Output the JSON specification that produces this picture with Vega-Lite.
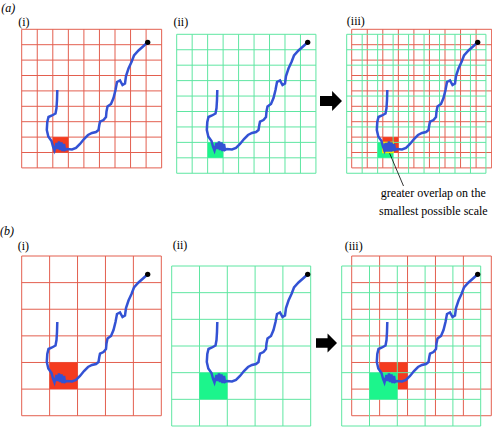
{
"$schema": "https://vega.github.io/schema/vega-lite/v6.json",
"padding": 0,
"config": {"view": {"stroke": null}, "font": "Liberation Serif"},
"datasets": {
"traj": [
{"o":1,"x":57.3,"y":90},{"o":2,"x":57.0,"y":100},{"o":3,"x":56.5,"y":108},{"o":4,"x":55.5,"y":113.5},{"o":5,"x":52,"y":115.5},{"o":6,"x":48.5,"y":117},{"o":7,"x":47.3,"y":122},{"o":8,"x":46.8,"y":130},{"o":9,"x":48.3,"y":136.5},{"o":10,"x":51.5,"y":141},{"o":11,"x":53,"y":146.5},{"o":12,"x":54.5,"y":150.5},{"o":13,"x":56.5,"y":143},{"o":14,"x":57.5,"y":149},{"o":15,"x":59,"y":141.5},{"o":16,"x":60,"y":150},{"o":17,"x":61.5,"y":142.5},{"o":18,"x":62.5,"y":151},{"o":19,"x":64,"y":144},{"o":20,"x":65,"y":150},{"o":21,"x":67,"y":149},{"o":22,"x":72,"y":149.5},{"o":23,"x":76,"y":148},{"o":24,"x":80,"y":144},{"o":25,"x":84,"y":139},{"o":26,"x":88,"y":135},{"o":27,"x":92,"y":133},{"o":28,"x":96,"y":132},{"o":29,"x":98.5,"y":130},{"o":30,"x":99.3,"y":125},{"o":31,"x":100,"y":121.7},{"o":32,"x":103.5,"y":120},{"o":33,"x":106,"y":117},{"o":34,"x":106.5,"y":111.5},{"o":35,"x":107.5,"y":106.5},{"o":36,"x":111,"y":104},{"o":37,"x":113.5,"y":98},{"o":38,"x":115.5,"y":90},{"o":39,"x":117,"y":82},{"o":40,"x":120,"y":80.5},{"o":41,"x":122.5,"y":85},{"o":42,"x":125,"y":83.5},{"o":43,"x":126,"y":76},{"o":44,"x":128.5,"y":68.5},{"o":45,"x":131.5,"y":62},{"o":46,"x":134,"y":55.5},{"o":47,"x":138.5,"y":50.5},{"o":48,"x":143,"y":46.5},{"o":49,"x":147.7,"y":42.3}
],
"dot": [{"x":147.7,"y":42.3}],
"redA": [
{"x":21.7,"x2":21.7,"y":29.3,"y2":167.9},{"x":37.25,"x2":37.25,"y":29.3,"y2":167.9},{"x":52.8,"x2":52.8,"y":29.3,"y2":167.9},{"x":68.35,"x2":68.35,"y":29.3,"y2":167.9},{"x":83.9,"x2":83.9,"y":29.3,"y2":167.9},{"x":99.45,"x2":99.45,"y":29.3,"y2":167.9},{"x":115,"x2":115,"y":29.3,"y2":167.9},{"x":130.55,"x2":130.55,"y":29.3,"y2":167.9},{"x":146.1,"x2":146.1,"y":29.3,"y2":167.9},{"x":161.65,"x2":161.65,"y":29.3,"y2":167.9},
{"x":21.7,"x2":161.65,"y":29.3,"y2":29.3},{"x":21.7,"x2":161.65,"y":44.7,"y2":44.7},{"x":21.7,"x2":161.65,"y":60.1,"y2":60.1},{"x":21.7,"x2":161.65,"y":75.5,"y2":75.5},{"x":21.7,"x2":161.65,"y":90.9,"y2":90.9},{"x":21.7,"x2":161.65,"y":106.3,"y2":106.3},{"x":21.7,"x2":161.65,"y":121.7,"y2":121.7},{"x":21.7,"x2":161.65,"y":137.1,"y2":137.1},{"x":21.7,"x2":161.65,"y":152.5,"y2":152.5},{"x":21.7,"x2":161.65,"y":167.9,"y2":167.9}
],
"greenA": [
{"x":16.7,"x2":16.7,"y":34.3,"y2":173.26},{"x":32.17,"x2":32.17,"y":34.3,"y2":173.26},{"x":47.64,"x2":47.64,"y":34.3,"y2":173.26},{"x":63.11,"x2":63.11,"y":34.3,"y2":173.26},{"x":78.58,"x2":78.58,"y":34.3,"y2":173.26},{"x":94.05,"x2":94.05,"y":34.3,"y2":173.26},{"x":109.52,"x2":109.52,"y":34.3,"y2":173.26},{"x":124.99,"x2":124.99,"y":34.3,"y2":173.26},{"x":140.46,"x2":140.46,"y":34.3,"y2":173.26},{"x":155.93,"x2":155.93,"y":34.3,"y2":173.26},
{"x":16.7,"x2":155.93,"y":34.3,"y2":34.3},{"x":16.7,"x2":155.93,"y":49.74,"y2":49.74},{"x":16.7,"x2":155.93,"y":65.18,"y2":65.18},{"x":16.7,"x2":155.93,"y":80.62,"y2":80.62},{"x":16.7,"x2":155.93,"y":96.06,"y2":96.06},{"x":16.7,"x2":155.93,"y":111.5,"y2":111.5},{"x":16.7,"x2":155.93,"y":126.94,"y2":126.94},{"x":16.7,"x2":155.93,"y":142.38,"y2":142.38},{"x":16.7,"x2":155.93,"y":157.82,"y2":157.82},{"x":16.7,"x2":155.93,"y":173.26,"y2":173.26}
],
"redB": [
{"x":21.7,"x2":21.7,"y":24,"y2":183.72},{"x":49.62,"x2":49.62,"y":24,"y2":183.72},{"x":77.54,"x2":77.54,"y":24,"y2":183.72},{"x":105.46,"x2":105.46,"y":24,"y2":183.72},{"x":133.38,"x2":133.38,"y":24,"y2":183.72},{"x":161.3,"x2":161.3,"y":24,"y2":183.72},
{"x":21.7,"x2":161.3,"y":24,"y2":24},{"x":21.7,"x2":161.3,"y":50.62,"y2":50.62},{"x":21.7,"x2":161.3,"y":77.24,"y2":77.24},{"x":21.7,"x2":161.3,"y":103.86,"y2":103.86},{"x":21.7,"x2":161.3,"y":130.48,"y2":130.48},{"x":21.7,"x2":161.3,"y":157.1,"y2":157.1},{"x":21.7,"x2":161.3,"y":183.72,"y2":183.72}
],
"greenB": [
{"x":11.7,"x2":11.7,"y":34,"y2":194},{"x":39.5,"x2":39.5,"y":34,"y2":194},{"x":67.3,"x2":67.3,"y":34,"y2":194},{"x":95.1,"x2":95.1,"y":34,"y2":194},{"x":122.9,"x2":122.9,"y":34,"y2":194},{"x":150.7,"x2":150.7,"y":34,"y2":194},
{"x":11.7,"x2":150.7,"y":34,"y2":34},{"x":11.7,"x2":150.7,"y":60.67,"y2":60.67},{"x":11.7,"x2":150.7,"y":87.33,"y2":87.33},{"x":11.7,"x2":150.7,"y":114,"y2":114},{"x":11.7,"x2":150.7,"y":140.67,"y2":140.67},{"x":11.7,"x2":150.7,"y":167.33,"y2":167.33},{"x":11.7,"x2":150.7,"y":194,"y2":194}
]
},
"columns": 3,
"align": "each",
"bounds": "flush",
"spacing": 0,
"concat": [
{"width":160,"height":232,
"encoding":{"x":{"field":"x","type":"quantitative","axis":null,"scale":{"domain":[0,160],"nice":false,"zero":false}},"y":{"field":"y","type":"quantitative","axis":null,"scale":{"domain":[0,232],"reverse":true,"nice":false,"zero":false}}},
"layer":[
{"data":{"name":"redA"},"mark":{"type":"rule","color":"#e35f4f","strokeWidth":1},"encoding":{"x2":{"field":"x2"},"y2":{"field":"y2"}}},
{"data":{"values":[{"x":52.8,"x2":68.35,"y":137.1,"y2":152.5}]},"mark":{"type":"rect","color":"#f43b1f"},"encoding":{"x2":{"field":"x2"},"y2":{"field":"y2"}}},
{"data":{"name":"traj"},"mark":{"type":"line","color":"#3352d4","strokeWidth":2.5},"encoding":{"order":{"field":"o","type":"quantitative"}}},
{"data":{"name":"dot"},"mark":{"type":"point","filled":true,"color":"black","opacity":1,"size":28},"encoding":{}},
{"data":{"values":[{"x":8.3,"y":7.5,"t":"(a)"},{"x":7,"y":231,"t":"(b)"}]},"mark":{"type":"text","fontStyle":"italic","fontSize":12,"font":"Liberation Serif","color":"black"},"encoding":{"text":{"field":"t"}}},
{"data":{"values":[{"x":23.8,"y":21.7,"t":"(i)"}]},"mark":{"type":"text","fontSize":12,"font":"Liberation Serif","color":"black"},"encoding":{"text":{"field":"t"}}}
]},
{"width":170,"height":232,
"encoding":{"x":{"field":"x","type":"quantitative","axis":null,"scale":{"domain":[0,170],"nice":false,"zero":false}},"y":{"field":"y","type":"quantitative","axis":null,"scale":{"domain":[0,232],"reverse":true,"nice":false,"zero":false}}},
"layer":[
{"data":{"name":"greenA"},"mark":{"type":"rule","color":"#5fe6a2","strokeWidth":1},"encoding":{"x2":{"field":"x2"},"y2":{"field":"y2"}}},
{"data":{"values":[{"x":47.64,"x2":63.11,"y":142.38,"y2":157.82}]},"mark":{"type":"rect","color":"#1cf58c"},"encoding":{"x2":{"field":"x2"},"y2":{"field":"y2"}}},
{"data":{"name":"traj"},"mark":{"type":"line","color":"#3352d4","strokeWidth":2.5},"encoding":{"order":{"field":"o","type":"quantitative"}}},
{"data":{"name":"dot"},"mark":{"type":"point","filled":true,"color":"black","opacity":1,"size":28},"encoding":{}},
{"data":{"values":[{"x":20.8,"y":21.7,"t":"(ii)"}]},"mark":{"type":"text","fontSize":12,"font":"Liberation Serif","color":"black"},"encoding":{"text":{"field":"t"}}}
]},
{"width":162,"height":232,
"encoding":{"x":{"field":"x","type":"quantitative","axis":null,"scale":{"domain":[0,162],"nice":false,"zero":false}},"y":{"field":"y","type":"quantitative","axis":null,"scale":{"domain":[0,232],"reverse":true,"nice":false,"zero":false}}},
"layer":[
{"data":{"name":"redA"},"mark":{"type":"rule","color":"#e35f4f","strokeWidth":1},"encoding":{"x2":{"field":"x2"},"y2":{"field":"y2"}}},
{"data":{"values":[{"x":52.8,"x2":68.35,"y":137.1,"y2":152.5}]},"mark":{"type":"rect","color":"#f43b1f"},"encoding":{"x2":{"field":"x2"},"y2":{"field":"y2"}}},
{"data":{"name":"greenA"},"mark":{"type":"rule","color":"#5fe6a2","strokeWidth":1},"encoding":{"x2":{"field":"x2"},"y2":{"field":"y2"}}},
{"data":{"values":[{"x":47.64,"x2":63.11,"y":142.38,"y2":157.82}]},"mark":{"type":"rect","color":"#1cf58c"},"encoding":{"x2":{"field":"x2"},"y2":{"field":"y2"}}},
{"data":{"values":[{"x":59.5,"x2":73.5,"y":153,"y2":186}]},"mark":{"type":"rule","color":"black","strokeWidth":0.8},"encoding":{"x2":{"field":"x2"},"y2":{"field":"y2"}}},
{"data":{"values":[{"x":52.8,"x2":63.11,"y":142.38,"y2":152.5}]},"mark":{"type":"rect","fill":"#2f55d8","stroke":"#f2e600","strokeWidth":1.5},"encoding":{"x2":{"field":"x2"},"y2":{"field":"y2"}}},
{"data":{"name":"traj"},"mark":{"type":"line","color":"#3352d4","strokeWidth":2.5},"encoding":{"order":{"field":"o","type":"quantitative"}}},
{"data":{"name":"dot"},"mark":{"type":"point","filled":true,"color":"black","opacity":1,"size":28},"encoding":{}},
{"data":{"values":[{"x":25.8,"y":20.7,"t":"(iii)"},{"x":103.3,"y":193.3,"t":"greater overlap on the"},{"x":103.3,"y":210.7,"t":"smallest possible scale"}]},"mark":{"type":"text","fontSize":12,"font":"Liberation Serif","color":"black"},"encoding":{"text":{"field":"t"}}},
{"data":{"values":[{"x":1,"y":101}]},"mark":{"type":"point","shape":"M -1 -0.45 L 0.1 -0.45 L 0.1 -0.9 L 1 0 L 0.1 0.9 L 0.1 0.45 L -1 0.45 Z","filled":true,"color":"black","opacity":1,"size":484,"strokeWidth":0},"encoding":{}}
]},
{"width":160,"height":196,
"encoding":{"x":{"field":"x","type":"quantitative","axis":null,"scale":{"domain":[0,160],"nice":false,"zero":false}},"y":{"field":"y","type":"quantitative","axis":null,"scale":{"domain":[0,196],"reverse":true,"nice":false,"zero":false}}},
"layer":[
{"data":{"name":"redB"},"mark":{"type":"rule","color":"#e35f4f","strokeWidth":1},"encoding":{"x2":{"field":"x2"},"y2":{"field":"y2"}}},
{"data":{"values":[{"x":49.62,"x2":77.54,"y":130.48,"y2":157.1}]},"mark":{"type":"rect","color":"#f43b1f"},"encoding":{"x2":{"field":"x2"},"y2":{"field":"y2"}}},
{"data":{"name":"traj"},"mark":{"type":"line","color":"#3352d4","strokeWidth":2.5},"encoding":{"order":{"field":"o","type":"quantitative"}}},
{"data":{"name":"dot"},"mark":{"type":"point","filled":true,"color":"black","opacity":1,"size":28},"encoding":{}},
{"data":{"values":[{"x":23.3,"y":14,"t":"(i)"}]},"mark":{"type":"text","fontSize":12,"font":"Liberation Serif","color":"black"},"encoding":{"text":{"field":"t"}}}
]},
{"width":170,"height":196,
"encoding":{"x":{"field":"x","type":"quantitative","axis":null,"scale":{"domain":[0,170],"nice":false,"zero":false}},"y":{"field":"y","type":"quantitative","axis":null,"scale":{"domain":[0,196],"reverse":true,"nice":false,"zero":false}}},
"layer":[
{"data":{"name":"greenB"},"mark":{"type":"rule","color":"#5fe6a2","strokeWidth":1},"encoding":{"x2":{"field":"x2"},"y2":{"field":"y2"}}},
{"data":{"values":[{"x":39.5,"x2":67.3,"y":140.67,"y2":167.33}]},"mark":{"type":"rect","color":"#1cf58c"},"encoding":{"x2":{"field":"x2"},"y2":{"field":"y2"}}},
{"data":{"name":"traj"},"mark":{"type":"line","color":"#3352d4","strokeWidth":2.5},"encoding":{"order":{"field":"o","type":"quantitative"}}},
{"data":{"name":"dot"},"mark":{"type":"point","filled":true,"color":"black","opacity":1,"size":28},"encoding":{}},
{"data":{"values":[{"x":20,"y":13,"t":"(ii)"}]},"mark":{"type":"text","fontSize":12,"font":"Liberation Serif","color":"black"},"encoding":{"text":{"field":"t"}}}
]},
{"width":162,"height":196,
"encoding":{"x":{"field":"x","type":"quantitative","axis":null,"scale":{"domain":[0,162],"nice":false,"zero":false}},"y":{"field":"y","type":"quantitative","axis":null,"scale":{"domain":[0,196],"reverse":true,"nice":false,"zero":false}}},
"layer":[
{"data":{"name":"redB"},"mark":{"type":"rule","color":"#e35f4f","strokeWidth":1},"encoding":{"x2":{"field":"x2"},"y2":{"field":"y2"}}},
{"data":{"values":[{"x":49.62,"x2":77.54,"y":130.48,"y2":157.1}]},"mark":{"type":"rect","color":"#f43b1f"},"encoding":{"x2":{"field":"x2"},"y2":{"field":"y2"}}},
{"data":{"name":"greenB"},"mark":{"type":"rule","color":"#5fe6a2","strokeWidth":1},"encoding":{"x2":{"field":"x2"},"y2":{"field":"y2"}}},
{"data":{"values":[{"x":39.5,"x2":67.3,"y":140.67,"y2":167.33}]},"mark":{"type":"rect","color":"#1cf58c"},"encoding":{"x2":{"field":"x2"},"y2":{"field":"y2"}}},
{"data":{"name":"traj"},"mark":{"type":"line","color":"#3352d4","strokeWidth":2.5},"encoding":{"order":{"field":"o","type":"quantitative"}}},
{"data":{"name":"dot"},"mark":{"type":"point","filled":true,"color":"black","opacity":1,"size":28},"encoding":{}},
{"data":{"values":[{"x":23.7,"y":14,"t":"(iii)"}]},"mark":{"type":"text","fontSize":12,"font":"Liberation Serif","color":"black"},"encoding":{"text":{"field":"t"}}},
{"data":{"values":[{"x":-3.5,"y":111}]},"mark":{"type":"point","shape":"M -1 -0.45 L 0.1 -0.45 L 0.1 -0.9 L 1 0 L 0.1 0.9 L 0.1 0.45 L -1 0.45 Z","filled":true,"color":"black","opacity":1,"size":441,"strokeWidth":0},"encoding":{}}
]}
]
}
